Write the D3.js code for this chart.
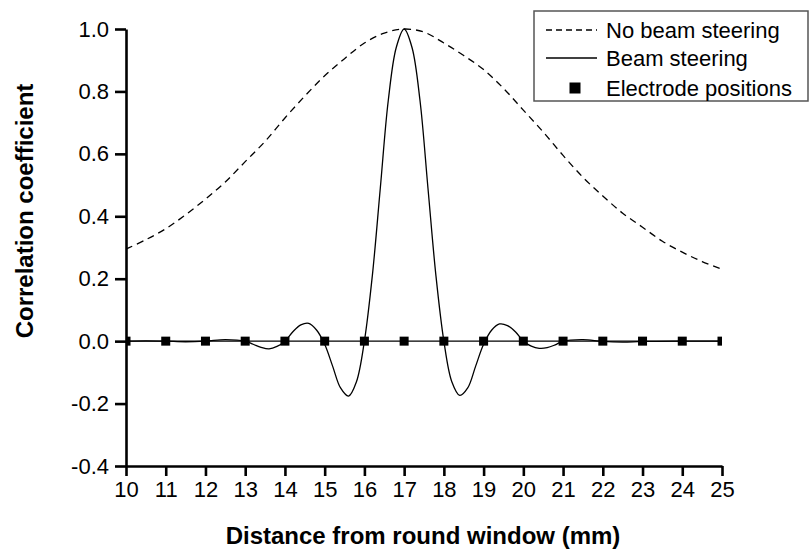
<!DOCTYPE html>
<html>
<head>
<meta charset="utf-8">
<script src="https://cdn.jsdelivr.net/npm/d3@7"></script>
<style>
	body { margin: 0; background: #fff; }
	svg text { font-family: Arial, "Liberation Sans", sans-serif; fill: #000; }
	.axis path, .axis line { stroke: #000; stroke-width: 2.6; }
	.axis text { font-size: 22px; }
	.axis-title { font-size: 24px; font-weight: bold; }
	.legend text { font-size: 22px; }
</style>
</head>
<body>
<div id="chart-container"></div>
<script>
// distance from round window (mm)
let noSteerX		= [10, 10.5, 11, 11.5, 12, 12.5, 13, 13.5, 14, 14.5, 15, 15.5, 16, 16.5, 17,
					   17.5, 18, 18.5, 19, 19.5, 20, 20.5, 21, 21.5, 22, 22.5, 23, 23.5, 24, 24.5, 25];
let noSteerY		= [0.295, 0.325, 0.36, 0.405, 0.455, 0.51, 0.575, 0.64, 0.715, 0.785, 0.85, 0.905, 0.955, 0.987, 1.0,
					   0.99, 0.955, 0.915, 0.87, 0.81, 0.74, 0.67, 0.595, 0.525, 0.465, 0.41, 0.365, 0.32, 0.285, 0.255, 0.23];

let steerX			= [10, 10.5, 11, 11.5, 12, 12.5, 13, 13.2, 13.4, 13.6, 13.8, 14, 14.2, 14.4, 14.6, 14.8,
					   15, 15.2, 15.4, 15.6, 15.8, 16, 16.2, 16.4, 16.6, 16.8, 17, 17.2, 17.4, 17.6, 17.8,
					   18, 18.2, 18.4, 18.6, 18.8, 19, 19.2, 19.4, 19.6, 19.8, 20, 20.2, 20.4, 20.6, 20.8,
					   21, 21.5, 22, 22.5, 23, 24, 25];
let steerY			= [0.0, 0.001, 0.0, -0.002, 0.0, 0.005, 0.0, -0.01, -0.02, -0.025, -0.017, 0.0, 0.03, 0.052, 0.057, 0.035,
					   -0.01, -0.08, -0.15, -0.176, -0.13, 0.0, 0.21, 0.49, 0.77, 0.94, 1.0, 0.94, 0.77, 0.49, 0.21,
					   0.0, -0.13, -0.174, -0.15, -0.08, -0.01, 0.035, 0.055, 0.05, 0.03, 0.0, -0.016, -0.023, -0.021, -0.012,
					   0.0, 0.005, -0.001, -0.003, -0.001, 0.0, 0.0];

let electrodeX		= [10, 11, 12, 13, 14, 15, 16, 17, 18, 19, 20, 21, 22, 23, 24, 25];
let electrodeY		= [0, 0, 0, 0, 0, 0, 0, 0, 0, 0, 0, 0, 0, 0, 0, 0];

let xTicks			= [10, 11, 12, 13, 14, 15, 16, 17, 18, 19, 20, 21, 22, 23, 24, 25];
let yTicks			= [-0.4, -0.2, 0.0, 0.2, 0.4, 0.6, 0.8, 1.0];

let legendLabels	= ['No beam steering', 'Beam steering', 'Electrode positions'];

function createLineChart() {
	let canvasWidth		= 809;
	let canvasHeight	= 550;

	let margin			= { top: 29, right: 87, bottom: 84, left: 126 };
	let width			= canvasWidth - margin.left - margin.right;
	let height			= canvasHeight - margin.top - margin.bottom;

	let x				= d3.scaleLinear().domain([10, 25]).range([0, width]);
	let y				= d3.scaleLinear().domain([-0.4, 1.0]).range([height, 0]);

	let root = d3.select('#chart-container').append('svg')
				.attr('width', canvasWidth)
				.attr('height', canvasHeight);

	let svg = root.append('g')
				.attr('transform', 'translate(' + margin.left + ',' + margin.top + ')');

	svg.append('clipPath')
		.attr('id', 'plot-clip')
	  .append('rect')
		.attr('x', 0)
		.attr('y', -5)
		.attr('width', width)
		.attr('height', height + 5);

	let plot = svg.append('g').attr('clip-path', 'url(#plot-clip)');

	let toPoints = (xs, ys) => xs.map((v, i) => ({ x: v, y: ys[i] }));

	let line = d3.line()
				.x((o) => x(o.x))
				.y((o) => y(o.y));

	// electrode line + markers
	let electrodes = toPoints(electrodeX, electrodeY);
	plot.append('path')
		.datum(electrodes)
		.attr('fill', 'none')
		.attr('stroke', '#000')
		.attr('stroke-width', 1.3)
		.attr('d', line.curve(d3.curveLinear));

	plot.append('path')
		.datum(toPoints(noSteerX, noSteerY))
		.attr('fill', 'none')
		.attr('stroke', '#000')
		.attr('stroke-width', 1.3)
		.attr('stroke-dasharray', '7,5')
		.attr('d', line.curve(d3.curveCatmullRom.alpha(0.5)));

	plot.append('path')
		.datum(toPoints(steerX, steerY))
		.attr('fill', 'none')
		.attr('stroke', '#000')
		.attr('stroke-width', 1.3)
		.attr('d', line.curve(d3.curveCatmullRom.alpha(0.5)));

	plot.selectAll('.electrode')
		.data(electrodes)
	  .enter().append('rect')
		.attr('class', 'electrode')
		.attr('x', (o) => x(o.x) - 4.5)
		.attr('y', (o) => y(o.y) - 4.5)
		.attr('width', 9)
		.attr('height', 9)
		.attr('fill', '#000');

	// axes
	let fmtY = (v) => d3.format('.1f')(v).replace('\u2212', '-');

	svg.append('g')
		.attr('class', 'axis')
		.attr('transform', 'translate(0,' + height + ')')
		.call(d3.axisBottom(x).tickValues(xTicks).tickSize(10).tickSizeOuter(0).tickPadding(5).tickFormat(d3.format('d')));

	svg.append('g')
		.attr('class', 'axis')
		.call(d3.axisLeft(y).tickValues(yTicks).tickSize(11).tickSizeOuter(0).tickPadding(6).tickFormat(fmtY));

	svg.selectAll('.axis text').attr('font-family', null);
	svg.selectAll('.axis text').attr('font-size', null);

	svg.append('text')
		.attr('class', 'axis-title')
		.attr('x', width / 2 - 1)
		.attr('y', height + 78)
		.attr('text-anchor', 'middle')
		.text('Distance from round window (mm)');

	svg.append('text')
		.attr('class', 'axis-title')
		.attr('transform', 'translate(' + (33 - margin.left) + ',' + (211 - margin.top) + ') rotate(-90)')
		.attr('text-anchor', 'middle')
		.text('Correlation coefficient');

	// legend
	let legend = root.append('g').attr('class', 'legend');

	legend.append('rect')
		.attr('x', 534)
		.attr('y', 11)
		.attr('width', 274)
		.attr('height', 90)
		.attr('fill', '#fff')
		.attr('stroke', '#555')
		.attr('stroke-width', 1.5);

	let rowY = [30, 58, 88];

	legend.append('line')
		.attr('x1', 546).attr('x2', 597)
		.attr('y1', rowY[0]).attr('y2', rowY[0])
		.attr('stroke', '#000').attr('stroke-width', 1.3)
		.attr('stroke-dasharray', '6,4');

	legend.append('line')
		.attr('x1', 546).attr('x2', 597)
		.attr('y1', rowY[1]).attr('y2', rowY[1])
		.attr('stroke', '#000').attr('stroke-width', 1.3);

	legend.append('rect')
		.attr('x', 569.5).attr('y', rowY[2] - 5.5)
		.attr('width', 11).attr('height', 11)
		.attr('fill', '#000');

	legend.selectAll('.legend-label')
		.data(legendLabels)
	  .enter().append('text')
		.attr('class', 'legend-label')
		.attr('x', 606)
		.attr('y', (o, i) => rowY[i] + 8)
		.text((o) => o);
}

createLineChart();
</script>
</body>
</html>
